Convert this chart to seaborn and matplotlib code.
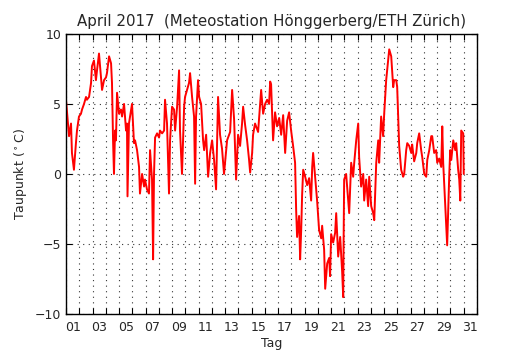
import numpy as np
import pandas as pd
import matplotlib
matplotlib.use("Agg")
import matplotlib.pyplot as plt
import seaborn as sns

# Dew point readings (day offset since 1 April 00:00, degC)
days = [0.00, 0.08, 0.23, 0.38, 0.45, 0.60, 0.75, 0.83, 0.98, 1.13,
        1.21, 1.36, 1.51, 1.58, 1.74, 1.89, 1.96, 2.11, 2.26, 2.34,
        2.49, 2.64, 2.72, 2.87, 3.02, 3.09, 3.25, 3.40, 3.47, 3.55,
        3.62, 3.70, 3.77, 3.85, 4.00, 4.15, 4.23, 4.38, 4.53, 4.60,
        4.64, 4.75, 4.91, 4.98, 5.13, 5.21, 5.36, 5.51, 5.58, 5.74,
        5.89, 5.96, 6.11, 6.26, 6.34, 6.49, 6.57, 6.64, 6.72, 6.87,
        7.02, 7.09, 7.25, 7.40, 7.47, 7.62, 7.77, 7.85, 8.00, 8.15,
        8.23, 8.38, 8.53, 8.60, 8.75, 8.91, 8.98, 9.13, 9.28, 9.36,
        9.51, 9.66, 9.74, 9.81, 9.96, 10.04, 10.19, 10.34, 10.42, 10.57,
        10.72, 10.87, 11.02, 11.17, 11.32, 11.47, 11.62, 11.77, 11.92, 12.15,
        12.38, 12.53, 12.68, 12.83, 12.98, 13.13, 13.28, 13.36, 13.51, 13.66,
        13.81, 13.89, 14.04, 14.11, 14.26, 14.49, 14.72, 14.87, 15.02, 15.17,
        15.32, 15.40, 15.47, 15.62, 15.77, 15.92, 16.08, 16.23, 16.38, 16.53,
        16.68, 16.83, 16.98, 17.13, 17.28, 17.36, 17.43, 17.58, 17.66, 17.74,
        17.81, 17.89, 18.04, 18.19, 18.34, 18.49, 18.57, 18.64, 18.79, 18.94,
        19.09, 19.25, 19.32, 19.47, 19.55, 19.70, 19.85, 19.92, 20.00, 20.15,
        20.30, 20.38, 20.53, 20.68, 20.83, 20.91, 20.94, 20.98, 21.13, 21.36,
        21.51, 21.66, 21.74, 21.89, 22.04, 22.11, 22.26, 22.42, 22.49, 22.64,
        22.79, 22.87, 23.02, 23.17, 23.25, 23.40, 23.55, 23.62, 23.77, 23.92,
        24.00, 24.15, 24.30, 24.38, 24.53, 24.68, 24.75, 24.91, 24.98, 25.13,
        25.28, 25.43, 25.51, 25.66, 25.74, 25.89, 26.04, 26.11, 26.26, 26.42,
        26.49, 26.64, 26.79, 26.87, 27.02, 27.17, 27.25, 27.40, 27.55, 27.62,
        27.77, 27.92, 28.00, 28.15, 28.30, 28.38, 28.45, 28.60, 28.68, 28.75,
        28.91, 28.98, 29.06, 29.21, 29.36, 29.43, 29.58, 29.66, 29.74, 29.81,
        29.96, 30.00]

taupunkt = [5.3, 4.4, 2.7, 3.6, 1.5, 0.3, 2.2, 3.1, 4.1, 4.3,
            4.6, 5.0, 5.5, 5.3, 5.5, 6.5, 7.7, 8.1, 6.7, 7.4,
            8.6, 6.9, 6.0, 6.7, 6.9, 7.2, 8.4, 7.9, 6.5, 2.4,
            0.0, 3.1, 2.4, 5.8, 4.3, 4.6, 4.1, 5.0, 3.1, 3.6,
            -1.6, 3.6, 4.6, 5.0, 2.2, 2.4, 1.7, 0.5, -1.4, 0.0,
            -0.9, -0.4, -1.1, -1.4, 1.7, -0.4, -6.1, 0.0, 2.6, 2.9,
            2.6, 3.1, 2.9, 3.1, 5.3, 3.6, -1.4, 2.4, 4.8, 4.6,
            3.1, 4.8, 7.4, 3.1, 0.0, 4.8, 5.5, 6.0, 6.5, 7.2,
            5.5, 4.1, -0.7, 4.1, 6.7, 5.5, 5.0, 2.4, 1.7, 2.8,
            -0.2, 1.5, 2.4, 1.0, -1.1, 5.5, 2.8, 1.8, 0.0, 2.4,
            3.0, 6.0, 3.9, -0.4, 2.8, 2.0, 3.6, 4.8, 3.5, 2.4,
            1.0, 0.1, 1.5, 2.8, 3.6, 3.0, 6.0, 4.3, 5.0, 5.3,
            5.0, 6.6, 6.4, 2.4, 4.4, 3.4, 4.0, 2.8, 4.2, 1.5,
            3.8, 4.4, 3.1, 2.0, 0.8, -2.6, -4.5, -3.0, -6.1, -4.0,
            -1.5, 0.3, -0.2, -0.8, -0.3, -1.9, 0.5, 1.5, -0.2, -1.9,
            -4.0, -4.6, -3.7, -5.4, -8.2, -6.4, -6.0, -7.3, -4.3, -4.9,
            -4.2, -2.8, -5.9, -4.5, -7.0, -8.8, -4.7, -0.4, 0.0, -2.8,
            0.8, -0.2, 0.8, 2.4, 3.6, 1.2, -0.9, 0.0, -1.9, -0.4,
            -2.3, -0.2, -2.3, -2.8, -3.3, 0.8, 2.4, 0.8, 4.1, 2.7,
            4.3, 6.7, 8.1, 8.9, 8.4, 6.2, 6.7, 6.7, 6.2, 2.0,
            0.3, -0.2, 0.0, 1.7, 2.2, 2.0, 1.5, 2.1, 0.9, 1.5,
            2.2, 2.9, 1.7, 1.2, 0.0, -0.2, 1.0, 1.7, 2.7, 2.7,
            1.5, 1.7, 0.8, 1.1, 0.5, 3.4, 0.8, -2.1, -3.5, -5.1,
            0.0, 1.7, 1.0, 2.4, 1.7, 2.2, 0.3, -0.4, -1.9, 3.1,
            2.9, 0.0]

day_labels = ["%02d" % d for d in range(1, 32, 2)]

df = pd.DataFrame({"tag": days, "taupunkt": taupunkt})

sns.set_style("ticks")
plt.rcParams['font.family'] = ['DejaVu Sans']

fig = plt.figure(figsize=(5.3, 3.5), dpi=100)
ax = fig.add_axes([0.1245, 0.103, 0.7755, 0.8])

sns.lineplot(data=df, x="tag", y="taupunkt", color="red", linewidth=1.4,
             estimator=None, sort=False, ax=ax)

ax.set_xlim(0, 31)
ax.set_ylim(-10, 10)

# day boundaries carry the grid, labels sit mid-day
ax.set_xticks(np.arange(0, 32))
ax.set_xticklabels([])
ax.set_xticks(np.arange(0.5, 31, 2), minor=True)
ax.set_xticklabels(day_labels, minor=True, fontsize=9)
ax.set_yticks([-10, -5, 0, 5, 10])
ax.tick_params(axis="y", labelsize=9)

ax.tick_params(which="major", direction="in", length=4, width=0.8,
               top=True, right=True, color="black")
ax.tick_params(which="minor", length=0, pad=5)
ax.grid(True, which="major", color="#333333", linestyle=(0, (1, 4)),
        linewidth=0.8)

for sp in ax.spines.values():
    sp.set_color("black")
    sp.set_linewidth(1.0)

ax.set_title("April 2017  (Meteostation Hönggerberg/ETH Zürich)", fontsize=10.8)
ax.set_xlabel("Tag", fontsize=9, labelpad=2)
ax.set_ylabel(r"Taupunkt ($^\circ$C)", fontsize=9)

plt.savefig("out.png", dpi=100)
